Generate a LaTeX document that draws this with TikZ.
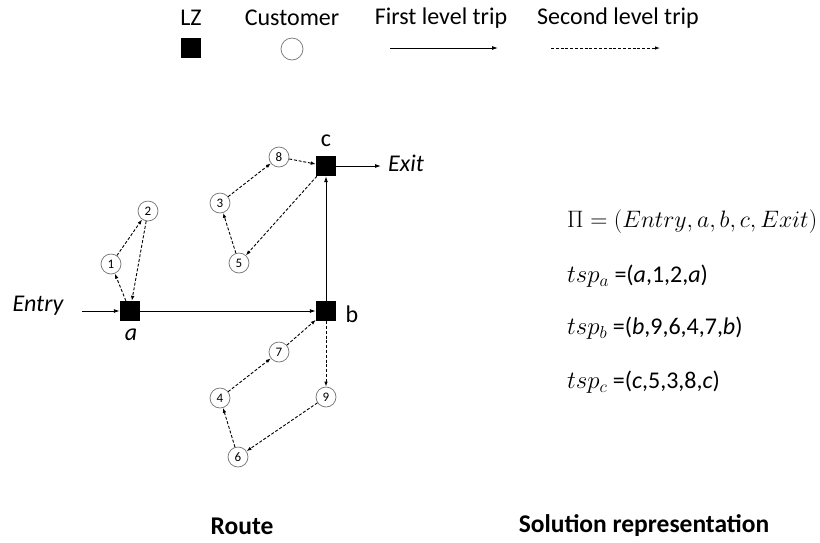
\documentclass[tikz,border=0pt]{standalone}
\usepackage{graphicx}
\usepackage{fontspec}
\setmainfont{Carlito}
\usetikzlibrary{arrows.meta}
\begin{document}
\begin{tikzpicture}[x=1pt,y=-1pt,
  lz/.style={rectangle,fill=black,minimum size=20pt,inner sep=0pt},
  cust/.style={circle,draw=black!55,line width=0.7pt,fill=white,minimum size=20pt,inner sep=0pt,font=\fontsize{13}{13}\selectfont},
  txt/.style={font=\fontsize{24}{26}\selectfont,inner sep=0pt},
  lbl/.style={font=\fontsize{24}{26}\selectfont\itshape,inner sep=0pt},
  caption/.style={font=\fontsize{25.5}{28}\selectfont\bfseries,inner sep=0pt},
  first/.style={line width=0.9pt,-{Latex[length=6pt,width=4pt]}},
  second/.style={line width=0.9pt,dash pattern=on 3pt off 1.8pt,-{Latex[length=5pt,width=3.6pt]}},
  eq/.style={font=\fontsize{24}{26}\selectfont,anchor=west,inner sep=0pt}
]
\useasboundingbox (0,0) rectangle (820,542);

% legend
\node[txt] (lzt) at (191,18) {LZ};
\node[txt] (cut) at (292,18) {Customer};
\node[txt] (flt) at (441,18) {First level trip};
\node[txt] (slt) at (618,18) {Second level trip};
\node[lz] (lzs) at (191,48) {};
\node[cust,minimum size=22pt] (cus) at (292,49) {};
\coordinate (f1) at (390,48);
\coordinate (f2) at (498,48);
\coordinate (s1) at (551,48);
\coordinate (s2) at (660,48);
\draw[first] (f1) -- (f2);
\draw[second] (s1) -- (s2);

% landing zones
\node[lz] (a) at (130,311) {};
\node[lz] (b) at (326,311) {};
\node[lz] (c) at (326,166) {};
\node[lbl] (al) at (131,335) {a};
\node[txt] (bl) at (352,314) {b};
\node[txt] (cl) at (326,141) {c};

% entry and exit
\coordinate (entry) at (82,311);
\coordinate (exit) at (381,166);
\node[lbl] (ent) at (38,306) {Entry};
\node[lbl] (ext) at (406,163) {Exit};

% customers
\node[cust] (n1) at (111,264) {1};
\node[cust] (n2) at (148,211) {2};
\node[cust] (n3) at (220,203) {3};
\node[cust] (n5) at (239,263) {5};
\node[cust] (n8) at (279,157) {8};
\node[cust] (n7) at (279,352) {7};
\node[cust] (n4) at (220,398) {4};
\node[cust] (n9) at (326,397) {9};
\node[cust] (n6) at (238,457) {6};

% first level trips
\draw[first] (entry) -- (a);
\draw[first] (a) -- (b);
\draw[first] (b) -- (c);
\draw[first] (c) -- (exit);

% second level trips
\draw[second] (a) -- (n1);
\draw[second] (n1) -- (n2);
\draw[second] (n2) -- (a);
\draw[second] (c) -- (n5);
\draw[second] (n5) -- (n3);
\draw[second] (n3) -- (n8);
\draw[second] (n8) -- (c);
\draw[second] (b) -- (n9);
\draw[second] (n9) -- (n6);
\draw[second] (n6) -- (n4);
\draw[second] (n4) -- (n7);
\draw[second] (n7) -- (b);

% solution representation
\node[eq] (pi) at (567,222) {\resizebox{250pt}{!}{$\Pi = (Entry, a, b, c, Exit)$}};
\node[eq] (ta) at (567,276) {$tsp_a$ =(\textit{a},1,2,\textit{a})};
\node[eq] (tb) at (567,328) {$tsp_b$ =(\textit{b},9,6,4,7,\textit{b})};
\node[eq] (tc) at (567,382) {$tsp_c$ =(\textit{c},5,3,8,\textit{c})};

% captions
\node[caption] (route) at (242,526) {Route};
\node[caption] (sol) at (644,526) {Solution representation};
\end{tikzpicture}
\end{document}
